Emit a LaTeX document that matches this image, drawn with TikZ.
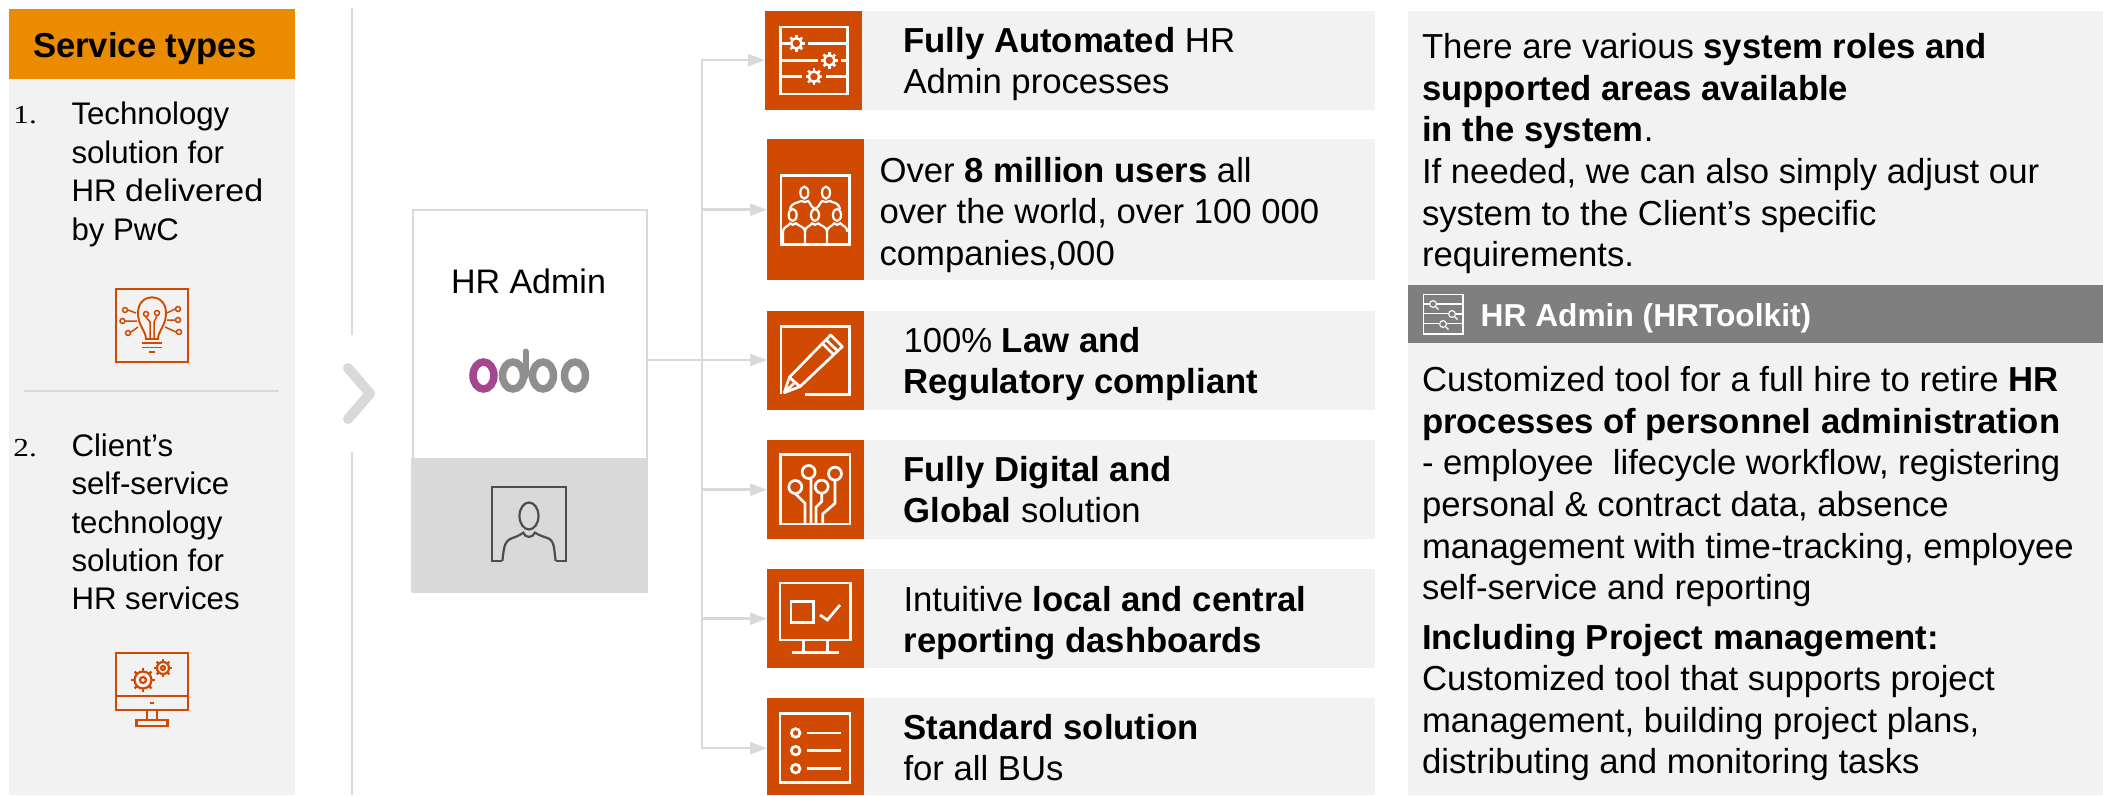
\documentclass[tikz,border=0pt]{standalone}
\usepackage{fontspec}
\usepackage{graphicx}
\setmainfont{Liberation Sans}
\newfontfamily\numfont{Liberation Serif}
\usetikzlibrary{arrows.meta,calc}
\definecolor{pwcred}{HTML}{D04A02}
\definecolor{pwcorange}{HTML}{EB8C00}
\definecolor{panelgrey}{HTML}{F2F2F2}
\definecolor{linegrey}{HTML}{D9D9D9}
\definecolor{bandgrey}{HTML}{7F7F7F}
\definecolor{icongrey}{HTML}{4D4D4D}
\definecolor{odoopurple}{HTML}{A5478F}
\definecolor{odoogrey}{HTML}{8F8F8F}
\newcommand\gearico[6]{% centre, ring radius, tooth end, hub radius (0 none), colour, width
  \draw[#5,line width=#6] (#1) circle[radius=#2pt];
  \ifdim #4pt>0pt \draw[#5,line width=#6] (#1) circle[radius=#4pt];\fi
  \foreach \a in {0,45,...,315}{\draw[#5,line width=#6,shift={(#1)}] (\a:#2pt) -- (\a:#3pt);}
}
\tikzset{
  panel/.style={fill=panelgrey,draw=none},
  orangebox/.style={fill=pwcred,draw=none,inner sep=0pt,minimum width=97pt},
  para/.style={anchor=north west,inner sep=0pt,outer sep=0pt,align=left,text=black,font=\fontsize{34.7}{41.6}\selectfont},
  leftpara/.style={anchor=north west,inner sep=0pt,outer sep=0pt,align=left,text=black,font=\fontsize{31.2}{38.4}\selectfont},
  numlabel/.style={anchor=base east,inner sep=0pt,text=black,font=\numfont\fontsize{26}{30}\selectfont},
  conn/.style={draw=linegrey,line width=2.5pt,-{Triangle[length=17pt,width=12pt,fill=linegrey]}},
  plain/.style={draw=linegrey,line width=2.5pt},
  icw/.style={draw=white,line width=2.7pt,fill=none},
  icr/.style={draw=pwcred,line width=2.6pt,fill=none},
  icg/.style={draw=icongrey,line width=2.2pt,fill=none},
}
\begin{document}
\begin{tikzpicture}[x=1pt,y=-1pt]
\useasboundingbox (0,0) rectangle (2103,795);

% ---- left panel
\fill[panelgrey] (9,79) rectangle (295,795);
\node[fill=pwcorange,inner sep=0pt,minimum width=286pt,minimum height=70pt,anchor=north west] (hdr) at (9,9) {};
\node[anchor=base west,inner sep=0pt,font=\bfseries\fontsize{34.6}{40}\selectfont] (hdrtxt) at (33,57) {Service types};
\node[numlabel] (n1) at (37,123.5) {\scalebox{1.2}[1]{1.}};
\node[leftpara] (t1) at (71.5,98) {\strut Technology\\solution for\\HR \scalebox{1.09}[1]{delivered}\\by PwC};
\draw[draw=linegrey,line width=1.8pt] (24,391) -- (279,391);
\node[numlabel] (n2) at (37,456.5) {\scalebox{1.2}[1]{2.}};
\node[leftpara] (t2) at (71.5,429.5) {\strut Client’s\\self-service\\technology\\solution for\\HR services};

% bulb icon
\draw[icr] (116,289) rectangle (188,362);
\draw[icr,line width=1.9pt] (146,339) .. controls (146,331) and (138,326) .. (138,313) .. controls (138,292) and (166,292) .. (166,313) .. controls (166,326) and (158,331) .. (158,339) -- cycle;
\draw[icr,line width=1.9pt] (142,343) -- (162,343) (142,347.5) -- (162,347.5);
\draw[icr,line width=2.2pt] (149,352) -- (155,352);
\draw[icr,line width=1.5pt] (150,339) -- (150,322) -- (146,317) (154,339) -- (154,322) -- (157,316);
\foreach \p in {(146,314),(157,313),(125,310),(122.5,321),(128,333),(178,309),(178,320),(179,332)}{\draw[icr,line width=1.5pt] \p circle[radius=2.5pt];}
\draw[icr,line width=1.5pt] (128,310) -- (136,313) (125,321) -- (137,321) (131,332) -- (138,327) (175,309) -- (167,313) (175,320) -- (167,320) (176,332) -- (165,327);

% monitor icon
\draw[icr] (116,653) rectangle (188,710) (116,696) -- (188,696);
\draw[icr] (147,710) -- (147,720) (157,710) -- (157,720) (136.5,720) rectangle (167.5,726);
\draw[icr,line width=2.6pt] (150,703) -- (154,703);
\gearico{143,680}{8.5}{12}{3}{pwcred}{2.2pt}
\gearico{163,668}{6}{9}{2}{pwcred}{2.2pt}

% vertical rule and chevron
\draw[plain] (352,8) -- (352,335) (352,452) -- (352,795);
\draw[draw=linegrey,line width=10pt,line cap=round,line join=round] (348,368) -- (370,393.5) -- (348,419);

% ---- HR Admin card
\node[draw=linegrey,line width=2pt,fill=white,minimum width=234pt,minimum height=382pt,inner sep=0pt,anchor=north west] (card) at (412,209) {};
\fill[linegrey] (411,458) rectangle (647,592);
\node[anchor=base,inner sep=0pt,font=\fontsize{34}{38}\selectfont] (cardtxt) at (528.5,293) {HR Admin};
% odoo logo
\draw[odoogrey,line width=7.5pt] (513,375.5) ellipse[x radius=10.5pt,y radius=13.5pt];
\draw[odoogrey,line width=6pt,line cap=round] (525.5,351.5) -- (525.5,376);
\draw[odoogrey,line width=7.5pt] (543,375.5) ellipse[x radius=10.5pt,y radius=13.5pt];
\draw[odoogrey,line width=7.5pt] (575,375.5) ellipse[x radius=10.5pt,y radius=13.5pt];
\draw[odoopurple,line width=7.5pt] (483.5,375.5) ellipse[x radius=10.5pt,y radius=13.5pt];
% person icon
\begin{scope}[shift={(330,180)},x=0.3333pt,y=-0.3333pt]
\draw[icg,line join=miter] (517,1143) -- (487,1143) -- (487,922) -- (708,922) -- (708,1143) -- (677,1143);
\draw[icg] (517,1143) .. controls (522,1110) and (520,1085) .. (545,1075) .. controls (560,1070) and (570,1065) .. (580,1058) .. controls (585,1075) and (608,1075) .. (615,1058) .. controls (625,1065) and (640,1070) .. (655,1075) .. controls (675,1085) and (672,1110) .. (677,1143);
\draw[icg] (597,1008) ellipse[x radius=9.5pt,y radius=13.5pt];
\end{scope}

% ---- rows
\foreach \ya/\yb/\xa in {11/110/862,139/280/864,311/410/864,440/539/864,569/668/864,698/795/864}{\fill[panelgrey] (\xa,\ya) rectangle (1375,\yb);}
\node[orangebox,minimum height=99pt,anchor=north west] (o1) at (765,11) {};
\node[orangebox,minimum height=141pt,anchor=north west] (o2) at (767,139) {};
\node[orangebox,minimum height=99pt,anchor=north west] (o3) at (767,311) {};
\node[orangebox,minimum height=99pt,anchor=north west] (o4) at (767,440) {};
\node[orangebox,minimum height=99pt,anchor=north west] (o5) at (767,569) {};
\node[orangebox,minimum height=97pt,anchor=north west] (o6) at (767,698) {};

% connectors
\coordinate (hubout) at (647,360);
\coordinate (trunk) at (702,360);
\draw[conn] (hubout) -- (o3.west |- trunk);
\draw[conn] (trunk) |- ([yshift=0.5pt]o1.west);
\draw[conn] (trunk) |- (o2.west);
\draw[conn] (trunk) |- (o4.west);
\draw[conn] (trunk) |- (o5.west);
\draw[conn] (trunk) |- ([yshift=-1.5pt]o6.west);

% row texts
\node[para] (r1) at (903.5,23) {\strut\textbf{Fully Automated} HR\\Admin processes};
\node[para] (r2) at (879.5,153) {\strut Over \textbf{8 million users} all\\over the world, over 100 000\\companies,000};
\node[para] (r3) at (903.5,323) {\strut 100\% \textbf{Law and}\\\textbf{Regulatory compliant}};
\node[para] (r4) at (903.5,452) {\strut\textbf{Fully Digital and}\\\textbf{Global} solution};
\node[para] (r5) at (903.5,582) {\strut Intuitive \textbf{local and central}\\\textbf{reporting dashboards}};
\node[para] (r6) at (903.5,710) {\strut\textbf{Standard solution}\\for all BUs};

% row icons (zoom coordinates)
\begin{scope}[shift={(690,0)},x=0.3333pt,y=-0.3333pt]
% o1
\draw[icw] (271,81) rectangle (472,282);
\draw[icw] (271,130) -- (298,130) (355,130) -- (472,130) (271,181) -- (383,181) (453,181) -- (472,181) (271,230) -- (337,230) (408,230) -- (472,230);
\gearico{319,130}{5.2}{8.3}{0}{white}{2.5pt}
\gearico{418,181}{5.2}{8.3}{0}{white}{2.5pt}
\gearico{372,230}{5.2}{8.3}{0}{white}{2.5pt}
% o2
\draw[icw] (273,527) rectangle (478,733);
\foreach \c in {(343,578),(408,578),(308,645),(375,645),(441,645)}{\draw[icw,line width=2.2pt] \c ellipse[x radius=4pt,y radius=6pt];}
\draw[icw,line width=2.2pt] (300,628) .. controls (305,605) and (325,610) .. (333,603) (333,603) .. controls (340,608) and (350,606) .. (355,603) .. controls (362,612) and (365,625) .. (375,625) .. controls (385,625) and (388,612) .. (396,603) .. controls (402,607) and (412,607) .. (420,603) .. controls (430,610) and (445,605) .. (450,628);
\draw[icw,line width=2.2pt] (279,733) -- (279,695) .. controls (279,680) and (295,680) .. (300,670) .. controls (305,676) and (312,676) .. (318,670) .. controls (325,678) and (345,680) .. (345,695) -- (345,733);
\draw[icw,line width=2.2pt] (345,695) .. controls (345,680) and (360,680) .. (366,670) .. controls (370,676) and (380,676) .. (385,670) .. controls (392,678) and (411,680) .. (411,695) -- (411,733);
\draw[icw,line width=2.2pt] (411,695) .. controls (411,680) and (426,680) .. (432,670) .. controls (436,676) and (446,676) .. (451,670) .. controls (458,678) and (472,680) .. (472,695);
% o3
\draw[icw] (273,1183) -- (273,980) -- (478,980) -- (478,1183) -- (345,1183);
\draw[icw,line join=round] (283,1178) -- (298,1132) -- (422,1005) -- (457,1040) -- (330,1160) -- cycle;
\draw[icw] (298,1132) -- (330,1160) (397,1030) -- (432,1065) (408,1019) -- (443,1053);
\draw[icw] (283,1178) -- (312,1150);
\end{scope}
\begin{scope}[shift={(690,420)},x=0.3333pt,y=-0.3333pt]
% o4
\draw[icw] (272,104) rectangle (480,312);
\foreach \c in {(316,201),(356,156),(395,200),(435,161)}{\draw[icw] \c circle[radius=6.5pt];}
\draw[icw] (316,221) -- (345,250) -- (345,310) (363,177) -- (363,310) (395,220) -- (395,245) -- (378,262) -- (378,310) (435,181) -- (435,250) -- (398,282) -- (398,310);
% o5
\draw[icw] (270,489) rectangle (482,660);
\draw[icw] (340,660) -- (340,698) (412,660) -- (412,698) (305,698) -- (447,698);
\draw[icw] (303,545) rectangle (370,607);
\draw[icw] (390,585) -- (412,600) -- (450,555);
% o6
\draw[icw] (270,880) rectangle (480,1087);
\foreach \yy in {939,992,1046}{\draw[icw] (317,\yy) circle[radius=4.3pt]; \draw[icw] (350,\yy) -- (452,\yy);}
\end{scope}

% ---- right panel
\fill[panelgrey] (1408,11) rectangle (2103,795);
\node[para] (p1) at (1422,29.5) {\strut There are various \textbf{system roles and}\\\textbf{supported areas available}\\\textbf{in the system}.\\If needed, we can also simply adjust our\\system to the Client’s specific\\requirements.};
\node[fill=bandgrey,inner sep=0pt,minimum width=695pt,minimum height=58pt,anchor=north west] (band) at (1408,285) {};
\node[anchor=base west,inner sep=0pt,text=white,font=\bfseries\fontsize{31.7}{38}\selectfont] (bandtxt) at (1480.5,326) {HR Admin (HRToolkit)};
\draw[white,line width=1.3pt] (1423.5,294.5) rectangle (1463,334);
\draw[white,line width=1.1pt] (1423.5,304) -- (1430,304) (1437,304) -- (1463,304) (1423.5,313.5) -- (1448,313.5) (1456,314) -- (1463,314) (1423.5,323.5) -- (1439,323.5) (1447,323.5) -- (1463,323.5);
\foreach \c in {(1433,304),(1452,314),(1443,324)}{\draw[white,line width=1.1pt] \c circle[radius=3.4pt]; \draw[white,line width=1.1pt,shift={\c}] (2.5,2.5) -- (5.5,5.5);}
\node[para] (p2) at (1422,362.5) {\strut Customized tool for a full hire to retire \textbf{HR}\\\textbf{processes of personnel administration}\\- employee\ \ lifecycle workflow, registering\\personal \& contract data, absence\\management with time-tracking, employee\\self-service and reporting};
\node[para] (p3) at (1422,620) {\strut\textbf{Including Project management:}\\Customized tool that supports project\\management, building project plans,\\distributing and monitoring tasks};
\end{tikzpicture}
\end{document}
